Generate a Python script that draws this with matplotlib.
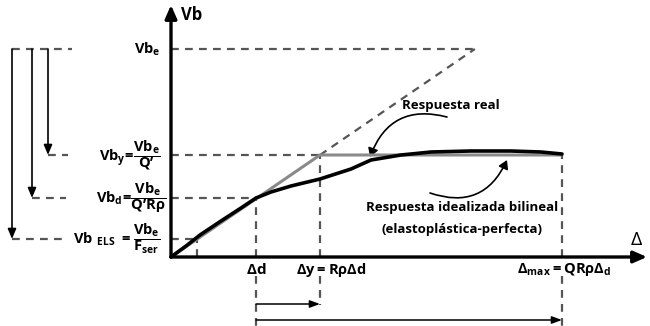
import matplotlib
matplotlib.use("Agg")
import matplotlib.pyplot as plt
from matplotlib.patches import FancyArrowPatch

plt.rcParams['font.family'] = ['Open Sans', 'DejaVu Sans']
plt.rcParams['font.weight'] = 'bold'
plt.rcParams['mathtext.fontset'] = 'custom'
plt.rcParams['mathtext.rm'] = 'Open Sans'
plt.rcParams['mathtext.it'] = 'Open Sans:bold'
plt.rcParams['mathtext.bf'] = 'Open Sans:bold'
plt.rcParams['mathtext.sf'] = 'Open Sans:bold'

# ---- data (diagram units, origin at 0) ----
vb_levels = {"e": 208, "y": 102, "d": 59, "els": 18}
delta_levels = {"els": 26, "d": 85, "y": 149, "max": 391}
real_x = [0, 15, 29, 50, 70, 85, 100, 120, 149, 180, 200, 230, 260, 300, 340, 370, 391]
real_y = [0, 11, 22, 36, 49, 59, 65, 71, 78, 88, 97, 102, 105, 106, 106, 105, 103]
left_arrow_x = [-159, -139, -123]
left_arrow_targets = ["els", "d", "y"]

fig = plt.figure(figsize=(6.5, 3.26), dpi=100)
ax = fig.add_axes([0, 0, 1, 1])
ax.set_xlim(-171, 479)
ax.set_ylim(-69, 257)
ax.axis('off')

dash = dict(color='#555555', lw=1.6, ls=(0, (3.5, 2.8)))
vbe, vby, vbd, vbels = vb_levels["e"], vb_levels["y"], vb_levels["d"], vb_levels["els"]
dd, dy, dmax, dels = delta_levels["d"], delta_levels["y"], delta_levels["max"], delta_levels["els"]
k = vby / dy
de = vbe / k

# axes
ax.annotate('', xy=(0, 252), xytext=(0, 0),
            arrowprops=dict(arrowstyle='-|>,head_length=0.8,head_width=0.35', color='black', lw=2.4, shrinkA=0, shrinkB=0))
ax.annotate('', xy=(476, 0), xytext=(0, 0),
            arrowprops=dict(arrowstyle='-|>,head_length=0.8,head_width=0.35', color='black', lw=2.4, shrinkA=0, shrinkB=0))

# horizontal dashed levels from axis
ax.plot([0, de], [vbe, vbe], **dash)
ax.plot([0, dy], [vby, vby], **dash)
ax.plot([0, dd], [vbd, vbd], **dash)
ax.plot([0, dels], [vbels, vbels], **dash)
# elastic dashed line
ax.plot([dy, de], [vby, vbe], **dash)
# vertical dashed
ax.plot([dd, dd], [0, vbd], **dash)
ax.plot([dy, dy], [0, vby], **dash)
ax.plot([dmax, dmax], [0, vby], **dash)
ax.plot([dels, dels], [0, vbels], **dash)
# below-axis dashed
ax.plot([dd, dd], [-19, -69], **dash)
ax.plot([dy, dy], [-19, -48], **dash)
ax.plot([dmax, dmax], [-19, -69], **dash)

# bilinear idealized
ax.plot([0, dy, dmax], [0, vby, vby], color='#8a8a8a', lw=2.2, solid_capstyle='butt')
# real response
ax.plot(real_x, real_y, color='black', lw=2.6, solid_capstyle='round')

# left side arrows
for x, key in zip(left_arrow_x, left_arrow_targets):
    ax.annotate('', xy=(x, vb_levels[key]), xytext=(x, vbe),
                arrowprops=dict(arrowstyle='-|>,head_length=0.6,head_width=0.25', color='black', lw=1.2,
                                shrinkA=0, shrinkB=0))
ax.plot([-159, -99], [vbe, vbe], **dash)
ax.plot([-123, -103], [vby, vby], **dash)
ax.plot([-139, -105], [vbd, vbd], **dash)
ax.plot([-159, -108], [vbels, vbels], **dash)

# bottom arrows
ax.annotate('', xy=(dy, -47), xytext=(dd, -47),
            arrowprops=dict(arrowstyle='-|>,head_length=0.6,head_width=0.22', color='black', lw=1.1, shrinkA=0, shrinkB=0))
ax.annotate('', xy=(dmax, -63), xytext=(dd, -63),
            arrowprops=dict(arrowstyle='-|>,head_length=0.6,head_width=0.22', color='black', lw=1.1, shrinkA=0, shrinkB=0))

# curved annotation arrows
ax.add_patch(FancyArrowPatch((276, 140), (199, 100), connectionstyle='arc3,rad=0.45',
                             arrowstyle='-|>,head_length=5,head_width=3', color='black', lw=1.2, shrinkA=0, shrinkB=0))
ax.add_patch(FancyArrowPatch((259, 64), (336, 97), connectionstyle='arc3,rad=0.45',
                             arrowstyle='-|>,head_length=5,head_width=3', color='black', lw=1.2, shrinkA=0, shrinkB=0))

fs = 10.5
# labels
ax.text(10, 242, 'Vb', fontsize=12, ha='left', va='center', fontweight='bold')
ax.text(465, 17, 'Δ', fontsize=14, ha='center', va='center', fontweight='normal')
ax.text(-11, vbe, r'$Vb_e$', fontsize=fs, ha='right', va='center')
ax.text(-11, vby, r'$Vb_y\!=\!\dfrac{Vb_e}{Q’}$', fontsize=fs, ha='right', va='center')
ax.text(-5, vbd, r'$Vb_d\!=\!\dfrac{Vb_e}{Q’R\rho}$', fontsize=fs, ha='right', va='center')
ax.text(-11, vbels, r'$Vb\ _{ELS}\ =\dfrac{Vb_e}{F_{ser}}$', fontsize=fs, ha='right', va='center')
ax.text(dd, -13, r'$\Delta d$', fontsize=fs + 0.5, ha='center', va='center')
ax.text(125, -13, r'$\Delta y = R\rho\Delta d$', fontsize=fs, ha='left', va='center')
ax.text(346, -13, r'$\Delta_{max} = QR\rho\Delta_d$', fontsize=fs, ha='left', va='center')
ax.text(280, 152, 'Respuesta real', fontsize=9.5, ha='center', va='center')
ax.text(291, 49, 'Respuesta idealizada bilineal', fontsize=9.5, ha='center', va='center')
ax.text(291, 28, '(elastoplástica-perfecta)', fontsize=9.5, ha='center', va='center')

fig.savefig('out.png', dpi=100)
